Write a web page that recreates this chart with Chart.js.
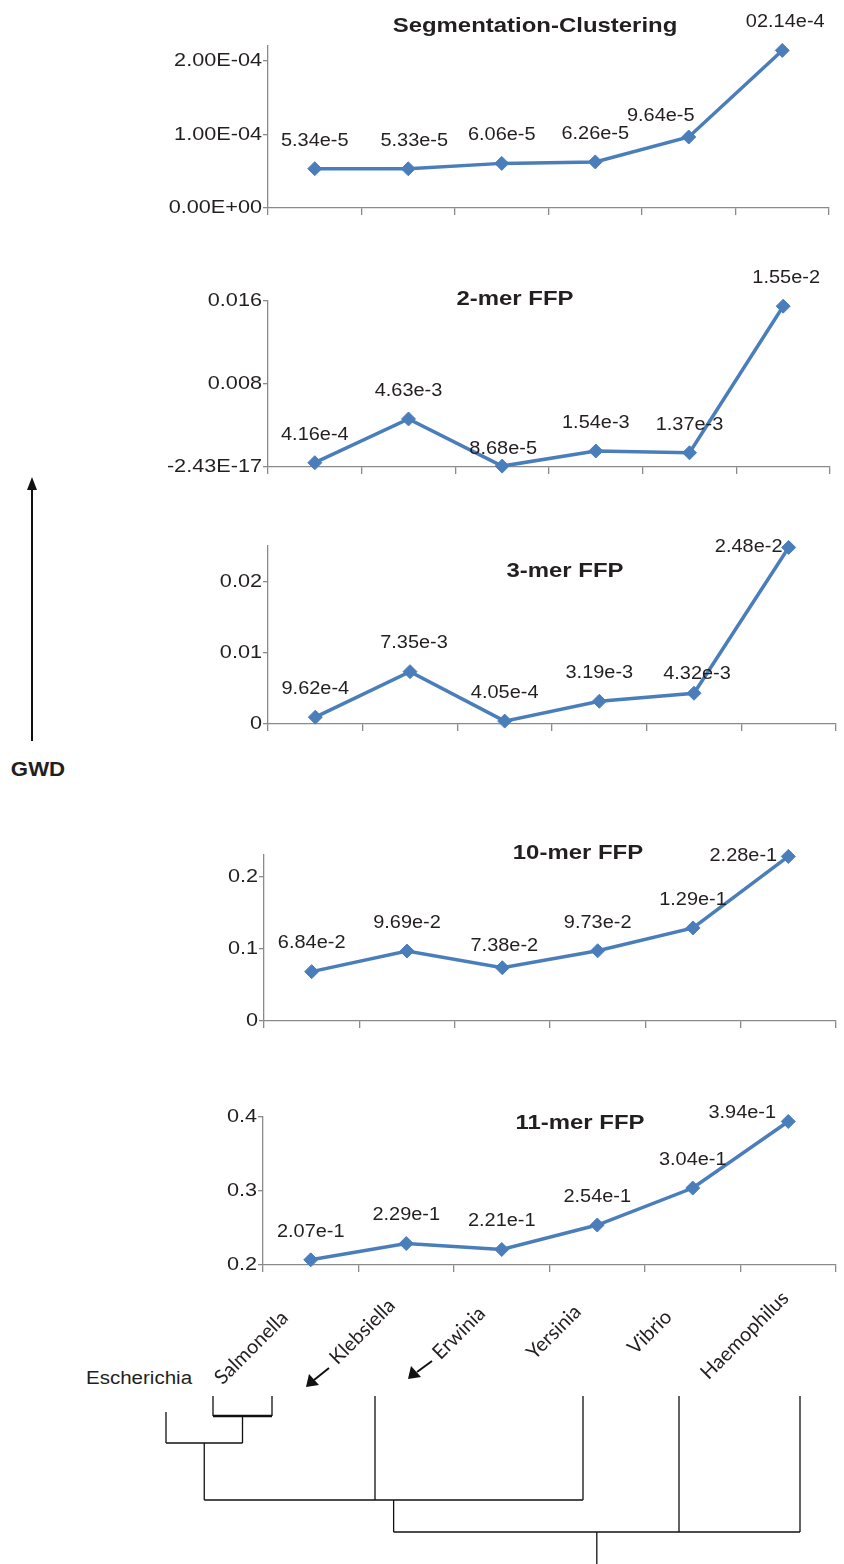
<!DOCTYPE html>
<html>
<head>
<meta charset="utf-8">
<script src="https://cdn.jsdelivr.net/npm/chart.js@4.4.0/dist/chart.umd.min.js"></script>
<style>
  body { margin: 0; background: #fff; }
  #page { position: relative; width: 844px; height: 1564px; overflow: hidden; font-family: "Liberation Sans", Arial, sans-serif; color: #231f20; }
  canvas { position: absolute; left: 0; }
  /* the figure's lettering is a little wider than Arial, so stretch it */
  .title { position: absolute; font-weight: bold; font-size: 21px; line-height: 1; white-space: nowrap; transform: translate(-50%, -50%) scaleX(1.14); }
  .genus { position: absolute; font-family: Lato, "Open Sans", sans-serif; font-size: 20px; line-height: 1; white-space: nowrap; transform-origin: 0 100%; transform: rotate(-45deg); }
  svg { position: absolute; left: 0; top: 0; }
</style>
</head>
<body>
<div id="page">
  <canvas id="seg"></canvas>
  <canvas id="k2"></canvas>
  <canvas id="k3"></canvas>
  <canvas id="k10"></canvas>
  <canvas id="k11"></canvas>
  <canvas id="tree"></canvas>

  <div class="title" style="left:535px; top:24px">Segmentation-Clustering</div>
  <div class="title" style="left:515px; top:297px">2-mer FFP</div>
  <div class="title" style="left:565px; top:569px">3-mer FFP</div>
  <div class="title" style="left:578px; top:851px">10-mer FFP</div>
  <div class="title" style="left:580px; top:1121px">11-mer FFP</div>

  <div class="title" style="left:38px; top:770px; font-size:19.5px">GWD</div>
  <div style="position:absolute; left:86px; top:1369px; font-size:18px; line-height:1; transform-origin:0 50%; transform:scaleX(1.14)">Escherichia</div>

  <svg width="844" height="1564">
    <line x1="32" y1="741" x2="32" y2="488" stroke="#111" stroke-width="2"/>
    <polygon points="32,477 27,490 37,490" fill="#111"/>
    <line x1="329" y1="1368" x2="314" y2="1380" stroke="#111" stroke-width="2"/>
    <polygon points="306,1387 309,1374 319,1385" fill="#111"/>
    <line x1="432" y1="1361" x2="417" y2="1372" stroke="#111" stroke-width="2"/>
    <polygon points="408,1379 411,1366 421,1377" fill="#111"/>
  </svg>
</div>

<script>
const genera = ['Salmonella', 'Klebsiella', 'Erwinia', 'Yersinia', 'Vibrio', 'Haemophilus'];

// Segmentation-Clustering
const segValues = [5.34e-5, 5.33e-5, 6.06e-5, 6.26e-5, 9.64e-5, 2.14e-4];
const segLabels = ['5.34e-5', '5.33e-5', '6.06e-5', '6.26e-5', '9.64e-5', '02.14e-4'];
const segTicks = [0, 1e-4, 2e-4];
const segTickLabels = ['0.00E+00', '1.00E-04', '2.00E-04'];

// 2-mer FFP
const k2Values = [4.16e-4, 4.63e-3, 8.68e-5, 1.54e-3, 1.37e-3, 1.55e-2];
const k2Labels = ['4.16e-4', '4.63e-3', '8.68e-5', '1.54e-3', '1.37e-3', '1.55e-2'];
const k2Ticks = [0, 0.008, 0.016];
const k2TickLabels = ['-2.43E-17', '0.008', '0.016'];

// 3-mer FFP
const k3Values = [9.62e-4, 7.35e-3, 4.05e-4, 3.19e-3, 4.32e-3, 2.48e-2];
const k3Labels = ['9.62e-4', '7.35e-3', '4.05e-4', '3.19e-3', '4.32e-3', '2.48e-2'];
const k3Ticks = [0, 0.01, 0.02];
const k3TickLabels = ['0', '0.01', '0.02'];

// 10-mer FFP
const k10Values = [6.84e-2, 9.69e-2, 7.38e-2, 9.73e-2, 1.29e-1, 2.28e-1];
const k10Labels = ['6.84e-2', '9.69e-2', '7.38e-2', '9.73e-2', '1.29e-1', '2.28e-1'];
const k10Ticks = [0, 0.1, 0.2];
const k10TickLabels = ['0', '0.1', '0.2'];

// 11-mer FFP
const k11Values = [2.07e-1, 2.29e-1, 2.21e-1, 2.54e-1, 3.04e-1, 3.94e-1];
const k11Labels = ['2.07e-1', '2.29e-1', '2.21e-1', '2.54e-1', '3.04e-1', '3.94e-1'];
const k11Ticks = [0.2, 0.3, 0.4];
const k11TickLabels = ['0.2', '0.3', '0.4'];

// dendrogram under the panels
const treeLeaves = ['Escherichia', 'Salmonella', 'Klebsiella', 'Erwinia', 'Yersinia', 'Vibrio', 'Haemophilus'];
const leafPos = [166, 213, 272, 375, 583, 679, 800];
const leafStart = [16, 0, 0, 0, 0, 0, 0];
const merges = [
    { kids: [1, 2], depth: 20 },
    { kids: [0, 'm0'], depth: 47 },
    { kids: ['m1', 3, 4], depth: 104 },
    { kids: ['m2', 5, 6], depth: 136 }
];
const rootDepth = 168;

const blue = '#4a7ebb';
const axisGrey = '#8a8a8a';
const textColor = '#231f20';
const STRETCH = 1.14;
const X_AXIS_H = 10;

// canvas band + plot box for every panel, and the hand-placed label nudges
const panels = [
    { id: 'seg', values: segValues, labels: segLabels, ticks: segTicks, tickLabels: segTickLabels,
      min: 0, max: 2.2e-4, top: 0, height: 230, area: { left: 268, right: 829, top: 46, bottom: 208 },
      nudge: { 1: [6, 0], 4: [-28, 7], 5: [3, 0] } },
    { id: 'k2', values: k2Values, labels: k2Labels, ticks: k2Ticks, tickLabels: k2TickLabels,
      min: 0, max: 0.016, top: 240, height: 250, area: { left: 268, right: 830, top: 301, bottom: 467 },
      nudge: { 2: [1, 11], 5: [3, 0] } },
    { id: 'k3', values: k3Values, labels: k3Labels, ticks: k3Ticks, tickLabels: k3TickLabels,
      min: 0, max: 0.025, top: 520, height: 220, area: { left: 268, right: 838, top: 546, bottom: 724 },
      nudge: { 1: [4, 0], 4: [3, 9], 5: [-40, 28] } },
    { id: 'k10', values: k10Values, labels: k10Labels, ticks: k10Ticks, tickLabels: k10TickLabels,
      min: 0, max: 0.23, top: 820, height: 220, area: { left: 264, right: 843, top: 855, bottom: 1021 },
      nudge: { 2: [2, 6], 5: [-45, 28] } },
    { id: 'k11', values: k11Values, labels: k11Labels, ticks: k11Ticks, tickLabels: k11TickLabels,
      min: 0.2, max: 0.4, top: 1080, height: 200, area: { left: 263, right: 844, top: 1117, bottom: 1265 },
      nudge: { 5: [-46, 20] } }
];

function wideText(ctx, text, x, y, align) {
    ctx.save();
    ctx.translate(x, y);
    ctx.scale(STRETCH, 1);
    ctx.textAlign = align;
    ctx.fillText(text, 0, 0);
    ctx.restore();
}

// value text above each diamond, and the y tick labels
function textPlugin(p) {
    return {
        id: 'panelText',
        afterDatasetsDraw(chart) {
            const ctx = chart.ctx;
            const meta = chart.getDatasetMeta(0);
            const yScale = chart.scales.y;
            ctx.save();
            ctx.fillStyle = textColor;
            ctx.textBaseline = 'middle';

            ctx.font = '17.5px "Liberation Sans", Arial, sans-serif';
            meta.data.forEach((pt, i) => {
                const n = p.nudge[i] || [0, 0];
                wideText(ctx, p.labels[i], pt.x + n[0], pt.y - 28 + n[1], 'center');
            });

            ctx.font = '19px "Liberation Sans", Arial, sans-serif';
            p.ticks.forEach((v, i) => {
                wideText(ctx, p.tickLabels[i], chart.chartArea.left - 6, yScale.getPixelForValue(v), 'right');
            });
            ctx.restore();
        }
    };
}

function makePanel(p) {
    const canvas = document.getElementById(p.id);
    canvas.width = 844;
    canvas.height = p.height;
    canvas.style.top = p.top + 'px';
    const a = p.area;

    return new Chart(canvas, {
        type: 'line',
        data: {
            labels: genera,
            datasets: [{
                data: p.values,
                borderColor: blue,
                backgroundColor: blue,
                borderWidth: 3.5,
                tension: 0,
                pointStyle: 'rectRot',
                pointRadius: 7,
                pointBorderWidth: 1,
                pointBackgroundColor: blue,
                pointBorderColor: blue,
                clip: false
            }]
        },
        options: {
            responsive: false,
            animation: false,
            events: [],
            layout: {
                padding: {
                    left: 0,
                    top: a.top - p.top,
                    right: 844 - a.right,
                    bottom: p.height - (a.bottom - p.top) - X_AXIS_H
                }
            },
            plugins: {
                legend: { display: false },
                tooltip: { enabled: false }
            },
            scales: {
                x: {
                    offset: true,
                    grid: { offset: true, drawOnChartArea: false, tickLength: 7, color: axisGrey, lineWidth: 1.3 },
                    border: { color: axisGrey, width: 1.3 },
                    ticks: { display: false },
                    afterFit: s => { s.height = X_AXIS_H; }
                },
                y: {
                    min: p.min,
                    max: p.max,
                    grid: { drawOnChartArea: false, tickLength: 5, color: axisGrey, lineWidth: 1.3 },
                    border: { color: axisGrey, width: 1.3 },
                    ticks: { display: false },
                    afterBuildTicks: s => { s.ticks = p.ticks.map(v => ({ value: v })); },
                    afterFit: s => { s.width = a.left; }
                }
            }
        },
        plugins: [textPlugin(p)]
    });
}

panels.forEach(makePanel);

// dendrogram: turn the merge list into line segments
const mergeX = [];
function nodeX(k) {
    return typeof k === 'number' ? leafPos[k] : mergeX[+k.slice(1)];
}
function nodeStart(k) {
    return typeof k === 'number' ? leafStart[k] : merges[+k.slice(1)].depth;
}
const segments = [];
merges.forEach((m, mi) => {
    const xs = m.kids.map(nodeX);
    m.kids.forEach((k, j) => {
        segments.push({ pts: [{ x: xs[j], y: nodeStart(k) }, { x: xs[j], y: m.depth }], w: 1.3 });
    });
    const lo = Math.min(...xs), hi = Math.max(...xs);
    // the innermost bar is printed heavier in the original
    segments.push({ pts: [{ x: lo, y: m.depth }, { x: hi, y: m.depth }], w: mi === 0 ? 2.6 : 1.3 });
    mergeX.push((lo + hi) / 2);
});
const rootX = mergeX[mergeX.length - 1];
segments.push({ pts: [{ x: rootX, y: merges[merges.length - 1].depth }, { x: rootX, y: rootDepth }], w: 1.3 });

const treeCanvas = document.getElementById('tree');
treeCanvas.width = 844;
treeCanvas.height = rootDepth;
treeCanvas.style.top = '1396px';

new Chart(treeCanvas, {
    type: 'scatter',
    data: {
        datasets: segments.map(s => ({
            data: s.pts,
            showLine: true,
            borderColor: '#111',
            borderWidth: s.w,
            pointRadius: 0,
            clip: false
        }))
    },
    options: {
        responsive: false,
        animation: false,
        events: [],
        layout: { padding: 0 },
        plugins: { legend: { display: false }, tooltip: { enabled: false } },
        scales: {
            x: { type: 'linear', min: 0, max: 844, display: false },
            y: { type: 'linear', min: 0, max: rootDepth, reverse: true, display: false }
        }
    }
});

// rotated genus names above the tree (baseline start of each)
const genusAnchors = [[226, 1385], [341, 1365], [444, 1360], [538, 1360], [639, 1355], [712, 1380]];
const page = document.getElementById('page');
genera.forEach((g, i) => {
    const d = document.createElement('div');
    d.className = 'genus';
    d.textContent = g;
    d.style.left = (genusAnchors[i][0] - 2) + 'px';
    d.style.top = (genusAnchors[i][1] - 18) + 'px';
    page.appendChild(d);
});
</script>
</body>
</html>
